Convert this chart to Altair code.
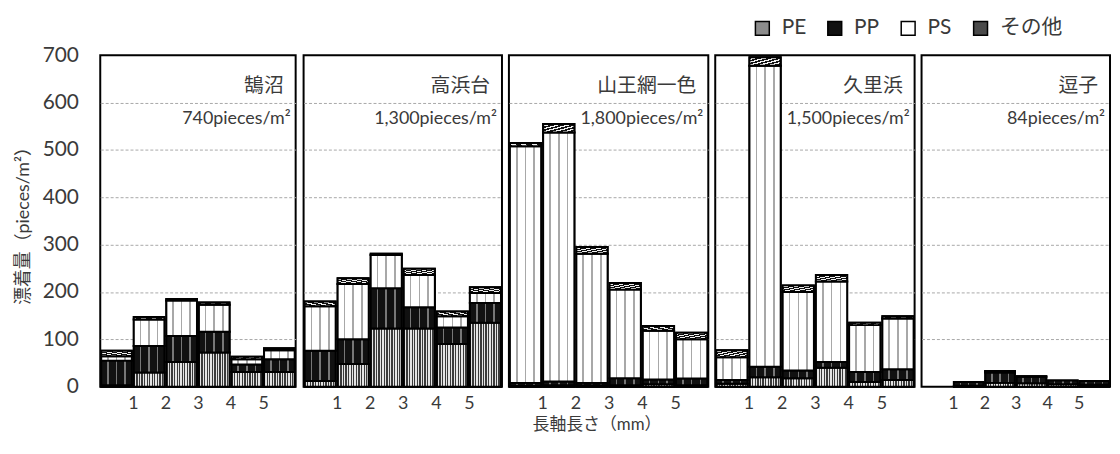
import altair as alt
import pandas as pd

# ---------------- data ----------------
sites = ["鵠沼", "高浜台", "山王網一色", "久里浜", "逗子"]
site_totals = ["740pieces/m²", "1,300pieces/m²", "1,800pieces/m²", "1,500pieces/m²", "84pieces/m²"]
categories = ["PE", "PP", "PS", "その他"]
size_class = [0, 1, 2, 3, 4, 5]          # bar i spans size i .. i+1 (mm)
tick_values = [1, 2, 3, 4, 5]

# values per site (rows) and size class (columns), pieces/m2
PE = [
    [3, 30, 52, 72, 31, 31],
    [12, 48, 123, 123, 90, 135],
    [2, 3, 3, 3, 5, 3],
    [6, 20, 18, 40, 10, 14],
    [0, 2, 8, 7, 5, 4],
]
PP = [
    [52, 56, 55, 44, 16, 27],
    [64, 52, 85, 45, 35, 42],
    [6, 8, 5, 15, 10, 14],
    [8, 22, 16, 12, 21, 23],
    [0, 8, 22, 14, 8, 8],
]
PS = [
    [9, 56, 75, 57, 11, 19],
    [94, 117, 70, 68, 24, 21],
    [500, 526, 273, 187, 103, 83],
    [48, 636, 166, 170, 99, 107],
    [0, 0, 2, 1, 0, 0],
]
OTHER = [
    [12, 5, 3, 5, 5, 4],
    [10, 12, 3, 13, 10, 12],
    [7, 18, 14, 14, 10, 14],
    [15, 18, 14, 14, 5, 5],
    [0, 0, 1, 0, 0, 0],
]

series = [PE, PP, PS, OTHER]
rows = []
for si, site in enumerate(sites):
    for ci, cat in enumerate(categories):
        for b in size_class:
            rows.append({"site": site, "cat": cat, "order": ci, "size": b,
                         "value": series[ci][si][b]})
df = pd.DataFrame(rows)

# ---------------- style ----------------
FONT = "Lato, 'Noto Sans CJK JP', sans-serif"
TEXT = "#3a3a3a"
cat_colors = ["#8c8c8c", "#111111", "#ffffff", "#4a4a4a"]
panel_widths = [197, 200, 201, 201, 190]
PLOT_H = 334


def stops_lines(bg, fg, centers, half):
    st = [{"offset": 0, "color": bg}]
    for c in centers:
        st += [{"offset": c - half, "color": bg}, {"offset": c - half, "color": fg},
               {"offset": c + half, "color": fg}, {"offset": c + half, "color": bg}]
    st.append({"offset": 1, "color": bg})
    return st


def stops_stripes(c1, c2, n, frac):
    st = []
    for k in range(n):
        a = k / n
        m = (k + frac) / n
        e = (k + 1) / n
        st += [{"offset": a, "color": c1}, {"offset": m, "color": c1},
               {"offset": m, "color": c2}, {"offset": e, "color": c2}]
    return st


grads = [
    {"gradient": "linear", "x1": 0, "y1": 0, "x2": 1, "y2": 0,
     "stops": stops_stripes("#3a3a3a", "#e4e4e4", 12, 0.5)},
    {"gradient": "linear", "x1": 0, "y1": 0, "x2": 1, "y2": 0,
     "stops": stops_lines("#111111", "#777777", [0.22, 0.5, 0.78], 0.025)},
    {"gradient": "linear", "x1": 0, "y1": 0, "x2": 1, "y2": 0,
     "stops": stops_lines("#ffffff", "#a8a8a8", [0.22, 0.5, 0.78], 0.025)},
    {"gradient": "linear", "x1": 0, "y1": 0, "x2": 1, "y2": 1,
     "stops": stops_stripes("#111111", "#f0f0f0", 6, 0.55)},
]

grid_opacity = {"condition": {"test": "datum.value == 0 || datum.value == 700", "value": 0},
                "value": 1}


def panel(i):
    site = sites[i]
    w = panel_widths[i]
    base = (
        alt.Chart(df)
        .transform_filter(alt.datum.site == site)
        .transform_filter(alt.datum.value > 0)
        .transform_stack(stack="value", groupby=["size"], as_=["y0", "y1"],
                         sort=[alt.SortField("order", order="ascending")])
        .transform_calculate(x0="datum.size + 0.03", x1="datum.size + 0.97")
    )
    if i == 0:
        yaxis = alt.Axis(values=[0, 100, 200, 300, 400, 500, 600, 700], ticks=False, domain=False,
                         grid=True, gridDash=[3, 2], gridColor="#a8a8a8", gridOpacity=grid_opacity,
                         labelFontSize=21, labelPadding=22, title="漂着量（pieces/m²）",
                         titleFontSize=18, titleFontWeight="normal", titlePadding=10)
    else:
        yaxis = alt.Axis(values=[0, 100, 200, 300, 400, 500, 600, 700], ticks=False, domain=False,
                         labels=False, grid=True, gridDash=[3, 2], gridColor="#a8a8a8",
                         gridOpacity=grid_opacity, title=None)
    xaxis = alt.Axis(values=tick_values, ticks=False, domain=False, grid=False, title=None,
                     labelFontSize=18, labelPadding=8, labelAngle=0)
    x = alt.X("x0:Q", scale=alt.Scale(domain=[0, 6], nice=False, zero=False), axis=xaxis)
    y = alt.Y("y0:Q", scale=alt.Scale(domain=[0, 700], nice=False), axis=yaxis)

    bars = base.mark_bar(stroke="black", strokeWidth=2).encode(
        x=x, x2="x1:Q", y=y, y2="y1:Q",
        color=alt.Color("cat:N", scale=alt.Scale(domain=categories, range=cat_colors),
                        legend=alt.Legend(orient="none", legendX=657, legendY=-38,
                                          direction="horizontal", title=None,
                                          symbolType="square", symbolSize=196,
                                          symbolStrokeColor="black", symbolStrokeWidth=1.5,
                                          labelFontSize=21, labelFont=FONT, labelColor=TEXT,
                                          columnPadding=18, labelOffset=9)),
    )
    overlays = [
        base.transform_filter(alt.datum.cat == c)
        .mark_bar(fill=g, stroke="black", strokeWidth=2)
        .encode(x=x, x2="x1:Q", y=y, y2="y1:Q")
        for c, g in zip(categories, grads)
    ]
    lab = pd.DataFrame({"name": [site], "total": [site_totals[i]]})
    t1 = alt.Chart(lab).mark_text(align="right", baseline="middle", fontSize=20,
                                  font=FONT, color=TEXT).encode(
        text="name:N", x=alt.value(w - 12), y=alt.value(31))
    t2 = alt.Chart(lab).mark_text(align="right", baseline="middle", fontSize=18,
                                  font=FONT, color=TEXT).encode(
        text="total:N", x=alt.value(w - 5), y=alt.value(64))
    return alt.layer(bars, *overlays, t1, t2).properties(width=w, height=PLOT_H)


chart = (
    alt.hconcat(*[panel(i) for i in range(len(sites))], spacing=5)
    .resolve_scale(color="shared")
    .properties(
        title=alt.TitleParams("長軸長さ（mm）", orient="bottom", anchor="middle", fontSize=17,
                              fontWeight="normal", font=FONT, color=TEXT, dx=35, offset=4),
        padding={"left": 5, "top": 8, "right": 0, "bottom": 0},
    )
    .configure_view(stroke="black", strokeWidth=2)
    .configure_axis(labelFont=FONT, titleFont=FONT, labelColor=TEXT, titleColor=TEXT)
)

chart.save("out.html", embed_options={"renderer": "svg", "actions": False})
